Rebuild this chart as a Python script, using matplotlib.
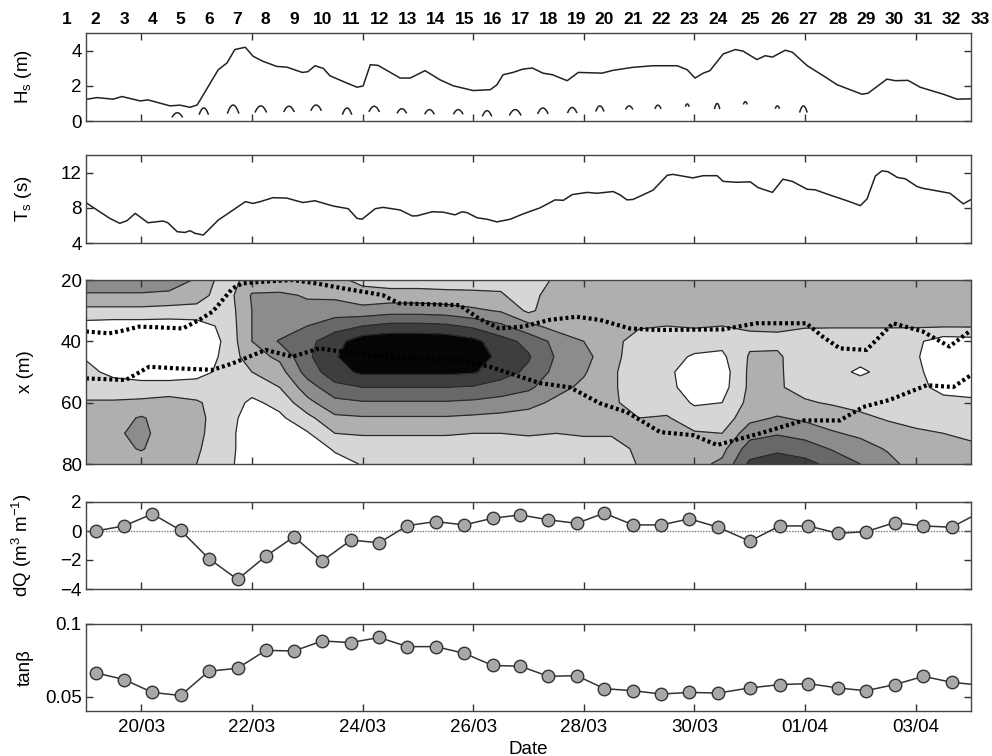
import numpy as np
import matplotlib
matplotlib.use('Agg')
import matplotlib.pyplot as plt
from matplotlib.colors import ListedColormap

plt.rcParams['font.family'] = ['Liberation Sans', 'DejaVu Sans']
plt.rcParams['font.size'] = 13.5
plt.rcParams['mathtext.fontset'] = 'custom'
plt.rcParams['mathtext.rm'] = 'Liberation Sans'
plt.rcParams['mathtext.it'] = 'Liberation Sans:italic'
plt.rcParams['mathtext.bf'] = 'Liberation Sans:bold'

# ---------------- data (time in day-of-March) ----------------
date_ticks = [20, 22, 24, 26, 28, 30, 32, 34]
date_labels = ['20/03', '22/03', '24/03', '26/03', '28/03', '30/03', '01/04', '03/04']

tide_days = [18.66, 19.175, 19.69, 20.2, 20.71, 21.22, 21.74, 22.25, 22.76, 23.27, 23.79,
             24.3, 24.81, 25.32, 25.84, 26.35, 26.85, 27.36, 27.87, 28.37, 28.89, 29.4,
             29.91, 30.43, 31.0, 31.54, 32.06, 32.59, 33.1, 33.62, 34.14, 34.65, 35.17]
tide_nums = list(range(1, 34))

hs_t = [19.02, 19.20, 19.49, 19.65, 19.98, 20.12, 20.52, 20.70, 20.88, 21.01,
        21.21, 21.39, 21.55, 21.69, 21.88, 22.02, 22.20, 22.45, 22.63, 22.91,
        23.01, 23.14, 23.29, 23.41, 23.72, 23.90, 24.01, 24.14, 24.28, 24.68,
        24.86, 25.13, 25.40, 25.64, 26.00, 26.31, 26.43, 26.54, 26.72, 26.90,
        27.07, 27.26, 27.43, 27.70, 27.90, 28.33, 28.53, 28.89, 29.25, 29.69,
        29.87, 30.01, 30.16, 30.28, 30.52, 30.74, 30.88, 31.13, 31.28, 31.41,
        31.64, 31.77, 32.04, 32.33, 32.58, 32.82, 33.03, 33.14, 33.48, 33.63,
        33.86, 34.08, 34.50, 34.75, 34.99]
hs_v = [1.24, 1.33, 1.24, 1.39, 1.14, 1.20, 0.86, 0.90, 0.78, 0.91,
        1.96, 2.91, 3.30, 4.06, 4.19, 3.68, 3.39, 3.10, 3.06, 2.76,
        2.80, 3.14, 2.99, 2.57, 2.15, 1.92, 1.99, 3.20, 3.16, 2.44,
        2.44, 2.86, 2.34, 2.00, 1.73, 1.78, 2.06, 2.63, 2.76, 2.95,
        3.01, 2.72, 2.63, 2.29, 2.76, 2.72, 2.88, 3.05, 3.14, 3.14,
        2.91, 2.44, 2.72, 2.86, 3.81, 4.06, 3.97, 3.49, 3.71, 3.63,
        4.02, 3.91, 3.14, 2.57, 2.06, 1.77, 1.52, 1.58, 2.38, 2.29,
        2.31, 1.92, 1.52, 1.24, 1.26]

# high-tide Hs fragments: centre time, peak, half-width (days), drop (m)
arch_t = [20.65, 21.13, 21.66, 22.16, 22.67, 23.16, 23.72, 24.21, 24.71, 25.21, 25.73, 26.25,
          26.76, 27.26, 27.79, 28.29, 28.82, 29.34, 29.87, 30.41, 30.92, 31.5, 31.97]
arch_h = [0.47, 0.74, 0.91, 0.86, 0.84, 0.91, 0.74, 0.84, 0.70, 0.65, 0.65, 0.59,
          0.65, 0.74, 0.77, 0.86, 0.86, 0.90, 0.97, 1.00, 1.10, 0.86, 0.86]
arch_w = [0.09, 0.08, 0.10, 0.10, 0.09, 0.09, 0.08, 0.09, 0.08, 0.08, 0.08, 0.08,
          0.10, 0.09, 0.08, 0.07, 0.06, 0.05, 0.03, 0.045, 0.03, 0.035, 0.065]
arch_d = [0.23, 0.34, 0.45, 0.34, 0.29, 0.29, 0.34, 0.29, 0.23, 0.23, 0.23, 0.29,
          0.30, 0.30, 0.28, 0.28, 0.17, 0.17, 0.12, 0.28, 0.12, 0.12, 0.34]

ts_t = [19.02, 19.20, 19.43, 19.61, 19.74, 19.89, 20.12, 20.39, 20.48, 20.65,
        20.79, 20.88, 20.97, 21.12, 21.39, 21.66, 21.88, 22.02, 22.15, 22.38,
        22.63, 22.92, 23.14, 23.47, 23.74, 23.90, 23.99, 24.23, 24.37, 24.68,
        24.90, 24.99, 25.26, 25.46, 25.67, 25.80, 25.89, 26.07, 26.25, 26.43,
        26.67, 26.90, 27.21, 27.48, 27.63, 27.79, 28.06, 28.24, 28.53, 28.66,
        28.78, 28.89, 29.25, 29.51, 29.61, 29.97, 30.16, 30.41, 30.52, 30.77,
        31.01, 31.15, 31.41, 31.60, 31.77, 32.04, 32.18, 32.45, 32.76, 33.00,
        33.12, 33.27, 33.39, 33.50, 33.67, 33.81, 34.03, 34.14, 34.32, 34.62,
        34.86, 34.99]
ts_v = [8.5, 7.75, 6.8, 6.24, 6.53, 7.37, 6.3, 6.5, 6.3, 5.28,
        5.2, 5.4, 5.1, 4.9, 6.6, 7.75, 8.7, 8.5, 8.7, 9.15,
        9.1, 8.6, 8.8, 8.2, 7.9, 6.8, 6.7, 7.9, 8.05, 7.75,
        7.07, 7.1, 7.55, 7.5, 7.2, 7.55, 7.45, 6.87, 6.7, 6.4,
        6.7, 7.3, 8.0, 8.9, 8.85, 9.5, 9.75, 9.65, 9.85, 9.45,
        8.9, 8.95, 10.0, 11.7, 11.8, 11.4, 11.65, 11.65, 11.0, 10.9,
        10.95, 10.3, 9.75, 11.25, 11.0, 10.1, 10.05, 9.45, 8.8, 8.25,
        9.0, 11.6, 12.2, 12.1, 11.45, 11.3, 10.4, 10.2, 10.0, 9.65,
        8.45, 8.9]

# contour field: grid times, cross-shore positions, class values per time column
grid_t = [19.0, 19.5, 20.0, 20.5, 21.0, 21.5, 22.0, 22.5, 23.0, 23.5, 24.0, 24.5, 25.0,
          25.5, 26.0, 26.5, 27.0, 27.5, 28.0, 28.5, 29.0, 29.5, 30.0, 30.5, 31.0, 31.5,
          32.0, 32.5, 33.0, 33.5, 34.0, 34.5, 35.0]
grid_x = [20, 25, 30, 35, 40, 45, 50, 55, 60, 65, 70, 75, 80]
field_cols = [
    [3.5, 2.9, 1.7, 0.6, 0.3, 0.9, 1.3, 1.5, 2.1, 2.4, 2.5, 2.4, 2.3],
    [3.5, 2.9, 1.7, 0.5, 0.2, 0.3, 0.7, 1.5, 2.1, 2.6, 2.8, 2.6, 2.3],
    [3.5, 2.9, 1.7, 0.5, 0.2, 0.2, 0.5, 1.4, 2.2, 3.1, 3.3, 3.1, 2.4],
    [3.5, 2.8, 1.6, 0.5, 0.2, 0.2, 0.5, 1.4, 2.4, 2.5, 2.4, 2.3, 2.2],
    [2.9, 2.5, 1.6, 0.6, 0.3, 0.3, 0.6, 1.5, 2.1, 2.2, 2.2, 2.1, 2.0],
    [1.5, 1.4, 1.3, 1.2, 1.1, 1.2, 1.3, 1.5, 1.6, 1.6, 1.5, 1.5, 1.4],
    [2.4, 3.1, 3.0, 3.0, 3.0, 2.6, 2.0, 1.4, 0.8, 0.4, 0.3, 0.3, 0.3],
    [2.2, 3.2, 3.3, 3.3, 4.1, 3.2, 2.6, 2.0, 1.3, 0.8, 0.5, 0.3, 0.3],
    [2.3, 2.9, 3.3, 4.0, 4.7, 4.8, 4.4, 3.5, 2.7, 1.7, 0.9, 0.5, 0.3],
    [2.2, 2.8, 3.5, 4.6, 5.6, 5.9, 5.6, 4.7, 3.7, 2.8, 2.0, 1.1, 0.7],
    [1.8, 2.3, 3.4, 5.0, 6.6, 6.8, 6.2, 5.0, 3.9, 2.9, 2.1, 1.4, 1.05],
    [1.5, 2.4, 3.6, 5.3, 6.8, 6.9, 6.2, 5.0, 3.9, 2.9, 2.1, 1.4, 1.05],
    [1.5, 2.4, 3.6, 5.3, 6.8, 6.9, 6.2, 5.0, 3.9, 2.9, 2.1, 1.4, 1.05],
    [1.5, 2.3, 3.5, 5.2, 6.7, 6.9, 6.2, 5.0, 3.9, 2.9, 2.1, 1.4, 1.05],
    [1.6, 2.2, 3.2, 4.8, 6.3, 6.6, 6.1, 4.9, 3.8, 2.8, 2.0, 1.4, 1.1],
    [1.7, 2.1, 2.9, 4.2, 5.4, 5.7, 5.4, 4.6, 3.6, 2.7, 2.0, 1.4, 1.2],
    [1.3, 1.5, 1.8, 3.3, 4.7, 5.1, 4.8, 4.2, 3.3, 2.6, 2.1, 1.5, 1.2],
    [2.2, 2.7, 2.6, 2.6, 3.7, 3.9, 3.7, 3.3, 2.8, 2.3, 2.0, 1.5, 1.2],
    [2.3, 2.2, 2.2, 2.3, 3.0, 3.3, 3.1, 2.8, 2.5, 2.3, 2.1, 1.6, 1.2],
    [2.3, 2.2, 2.2, 2.2, 2.3, 2.4, 2.2, 2.2, 2.2, 2.2, 2.1, 1.6, 1.2],
    [2.2, 2.3, 2.2, 2.1, 1.6, 1.3, 1.3, 1.3, 1.5, 2.0, 2.2, 2.2, 2.1],
    [2.3, 2.4, 2.2, 2.0, 1.5, 1.3, 1.2, 1.3, 1.5, 2.1, 2.3, 2.3, 2.4],
    [2.2, 2.3, 2.3, 2.1, 1.4, 0.9, 0.5, 0.5, 0.9, 1.4, 2.1, 2.4, 2.7],
    [2.3, 2.3, 2.3, 2.0, 1.3, 0.8, 0.5, 0.6, 1.0, 1.4, 2.0, 2.7, 3.2],
    [2.3, 2.4, 2.3, 2.1, 1.8, 2.1, 2.2, 2.2, 2.3, 2.7, 3.6, 4.5, 5.2],
    [2.3, 2.3, 2.4, 2.2, 1.7, 2.2, 2.2, 2.1, 2.3, 3.1, 3.9, 4.8, 5.5],
    [2.3, 2.3, 2.3, 2.1, 1.4, 1.2, 1.3, 1.7, 2.1, 2.8, 3.6, 4.5, 5.3],
    [2.3, 2.3, 2.3, 2.1, 1.3, 1.3, 1.2, 1.5, 1.9, 2.5, 3.1, 3.9, 4.7],
    [2.3, 2.3, 2.3, 2.1, 1.3, 1.2, 0.9, 1.3, 1.7, 2.2, 2.8, 3.4, 4.0],
    [2.3, 2.3, 2.3, 2.1, 1.3, 1.2, 1.2, 1.3, 1.6, 1.9, 2.4, 2.9, 3.3],
    [2.3, 2.3, 2.2, 2.1, 1.2, 1.1, 1.2, 1.3, 1.6, 1.8, 2.1, 2.4, 2.6],
    [2.3, 2.3, 2.2, 2.1, 0.5, 0.4, 0.5, 0.7, 1.3, 1.9, 2.0, 2.2, 2.3],
    [2.3, 2.3, 2.2, 2.1, 0.6, 0.4, 0.4, 0.6, 1.2, 1.5, 1.9, 2.1, 2.3],
]
shade_colors = ['#ffffff', '#d6d6d6', '#afafaf', '#8c8c8c', '#686868', '#3e3e3e', '#050505']

upper_t = [19.0, 19.42, 19.72, 19.96, 20.27, 20.75, 21.05, 21.29, 21.47, 21.65, 21.83, 22.25,
           22.73, 23.16, 23.64, 24.36, 24.66, 25.75, 26.1, 26.47, 26.9, 27.38, 27.87, 28.29,
           28.83, 29.31, 30.52, 31.12, 32.02, 32.32, 32.63, 33.11, 33.59, 34.13, 34.61, 34.97]
upper_x = [36.8, 37.4, 36.3, 35.2, 35.4, 35.8, 33.0, 30.3, 26.5, 22.7, 21.1, 20.5,
           20.0, 21.1, 22.7, 24.9, 27.6, 28.2, 32.5, 35.8, 35.2, 33.0, 32.0, 33.0,
           35.8, 36.3, 36.1, 34.1, 34.1, 38.5, 42.3, 42.8, 34.1, 36.8, 41.7, 36.8]
lower_t = [19.0, 19.72, 20.14, 20.63, 21.29, 21.65, 22.25, 22.73, 23.22, 23.76, 24.66, 25.75,
           26.3, 27.2, 27.75, 28.29, 28.78, 29.38, 29.98, 30.41, 31.19, 31.97, 32.63, 33.05,
           33.53, 34.2, 34.68, 35.0]
lower_x = [52.1, 52.6, 48.3, 48.8, 49.3, 47.2, 42.8, 45.0, 42.3, 43.7, 45.5, 46.1,
           48.3, 53.6, 55.0, 60.2, 63.1, 69.6, 70.6, 73.8, 70.0, 65.8, 65.8, 61.4,
           59.1, 54.3, 54.9, 51.0]

dq_t = tide_days[1:]
dq_v = [0.0, 0.35, 1.18, 0.05, -1.9, -3.34, -1.74, -0.4, -2.07, -0.63, -0.81, 0.37, 0.65,
        0.42, 0.88, 1.11, 0.77, 0.53, 1.23, 0.42, 0.42, 0.84, 0.26, -0.7, 0.35, 0.35,
        -0.16, -0.05, 0.58, 0.35, 0.26, 1.3]
tanb_v = [0.0663, 0.0617, 0.0528, 0.0507, 0.0674, 0.0695, 0.0818, 0.0814, 0.0883, 0.0872,
          0.0907, 0.0844, 0.0844, 0.0798, 0.0714, 0.0709, 0.0639, 0.0644, 0.0554, 0.054,
          0.0517, 0.0528, 0.0524, 0.0559, 0.0582, 0.0589, 0.0559, 0.054, 0.0582, 0.0639,
          0.0598, 0.0578]

# ---------------- figure ----------------
W, H = 992, 756
fig = plt.figure(figsize=(W / 100, H / 100), dpi=100)
left, right = 86, 971


def add_ax(top, bottom):
    return fig.add_axes([left / W, 1 - bottom / H, (right - left) / W, (bottom - top) / H])


ax1 = add_ax(33, 121)
ax2 = add_ax(155, 243)
ax3 = add_ax(280, 464)
ax4 = add_ax(502, 589)
ax5 = add_ax(624, 711)
axes = [ax1, ax2, ax3, ax4, ax5]

line_col = '#222222'
for ax in axes:
    ax.set_xlim(19, 35)
    ax.set_xticks(date_ticks)
    ax.tick_params(direction='in', top=True, right=True, length=5, width=1,
                   color='#333333', labelsize=13.5)
    ax.tick_params(axis='y', pad=3)
    ax.tick_params(axis='x', pad=6)
    for s in ax.spines.values():
        s.set_color('#444444')
        s.set_linewidth(1.0)
    if ax is not ax5:
        ax.set_xticklabels([])
    ax.yaxis.set_label_coords(-0.059, 0.5)

ax5.set_xticklabels(date_labels)
ax5.set_xlabel('Date', labelpad=3)

# Panel 1: Hs
ax1.plot(hs_t, hs_v, color=line_col, lw=1.1)
for c, h, w, d in zip(arch_t, arch_h, arch_w, arch_d):
    u = np.linspace(-1, 1, 9)
    ax1.plot(c + w * u, h - d * u ** 2, color=line_col, lw=1.1)
ax1.set_ylim(0, 5)
ax1.set_yticks([0, 2, 4])
ax1.set_ylabel(r'H$_\mathrm{s}$ (m)')
for n, t in zip(tide_nums, tide_days):
    ax1.text(t, 1.15, str(n), transform=ax1.get_xaxis_transform(), ha='center',
             va='center', fontsize=12.5, fontweight='bold', clip_on=False)

# Panel 2: Ts
ax2.plot(ts_t, ts_v, color=line_col, lw=1.1)
ax2.set_ylim(4, 14)
ax2.set_yticks([4, 8, 12])
ax2.set_ylabel(r'T$_\mathrm{s}$ (s)')

# Panel 3: contour
Z = np.array(field_cols).T
ax3.contourf(grid_t, grid_x, Z, levels=np.arange(0, 8), cmap=ListedColormap(shade_colors))
ax3.contour(grid_t, grid_x, Z, levels=np.arange(1, 7), colors='#2a2a2a', linewidths=0.9)
ax3.plot(upper_t, upper_x, color='black', lw=3.0, ls=(0, (0.7, 0.7)))
ax3.plot(lower_t, lower_x, color='black', lw=3.0, ls=(0, (0.7, 0.7)))
ax3.set_ylim(80, 20)
ax3.set_yticks([20, 40, 60, 80])
ax3.set_ylabel('x (m)')

# Panel 4: dQ
ax4.axhline(0, color='#777777', lw=1.0, ls=(0, (1, 1)))
ax4.plot(dq_t, dq_v, color='#333333', lw=1.1, marker='o', ms=9,
         mfc='#a8a8a8', mec='#333333', mew=1.0)
ax4.set_ylim(-4, 2)
ax4.set_yticks([-4, -2, 0, 2])
ax4.set_ylabel(r'dQ (m$^3$ m$^{-1}$)')

# Panel 5: tan beta
ax5.plot(dq_t, tanb_v, color='#333333', lw=1.1, marker='o', ms=9,
         mfc='#a8a8a8', mec='#333333', mew=1.0)
ax5.set_ylim(0.04, 0.1)
ax5.set_yticks([0.05, 0.1])
ax5.set_yticklabels(['0.05', '0.1'])
ax5.set_ylabel('tanβ')

fig.savefig('out.png', dpi=100)
